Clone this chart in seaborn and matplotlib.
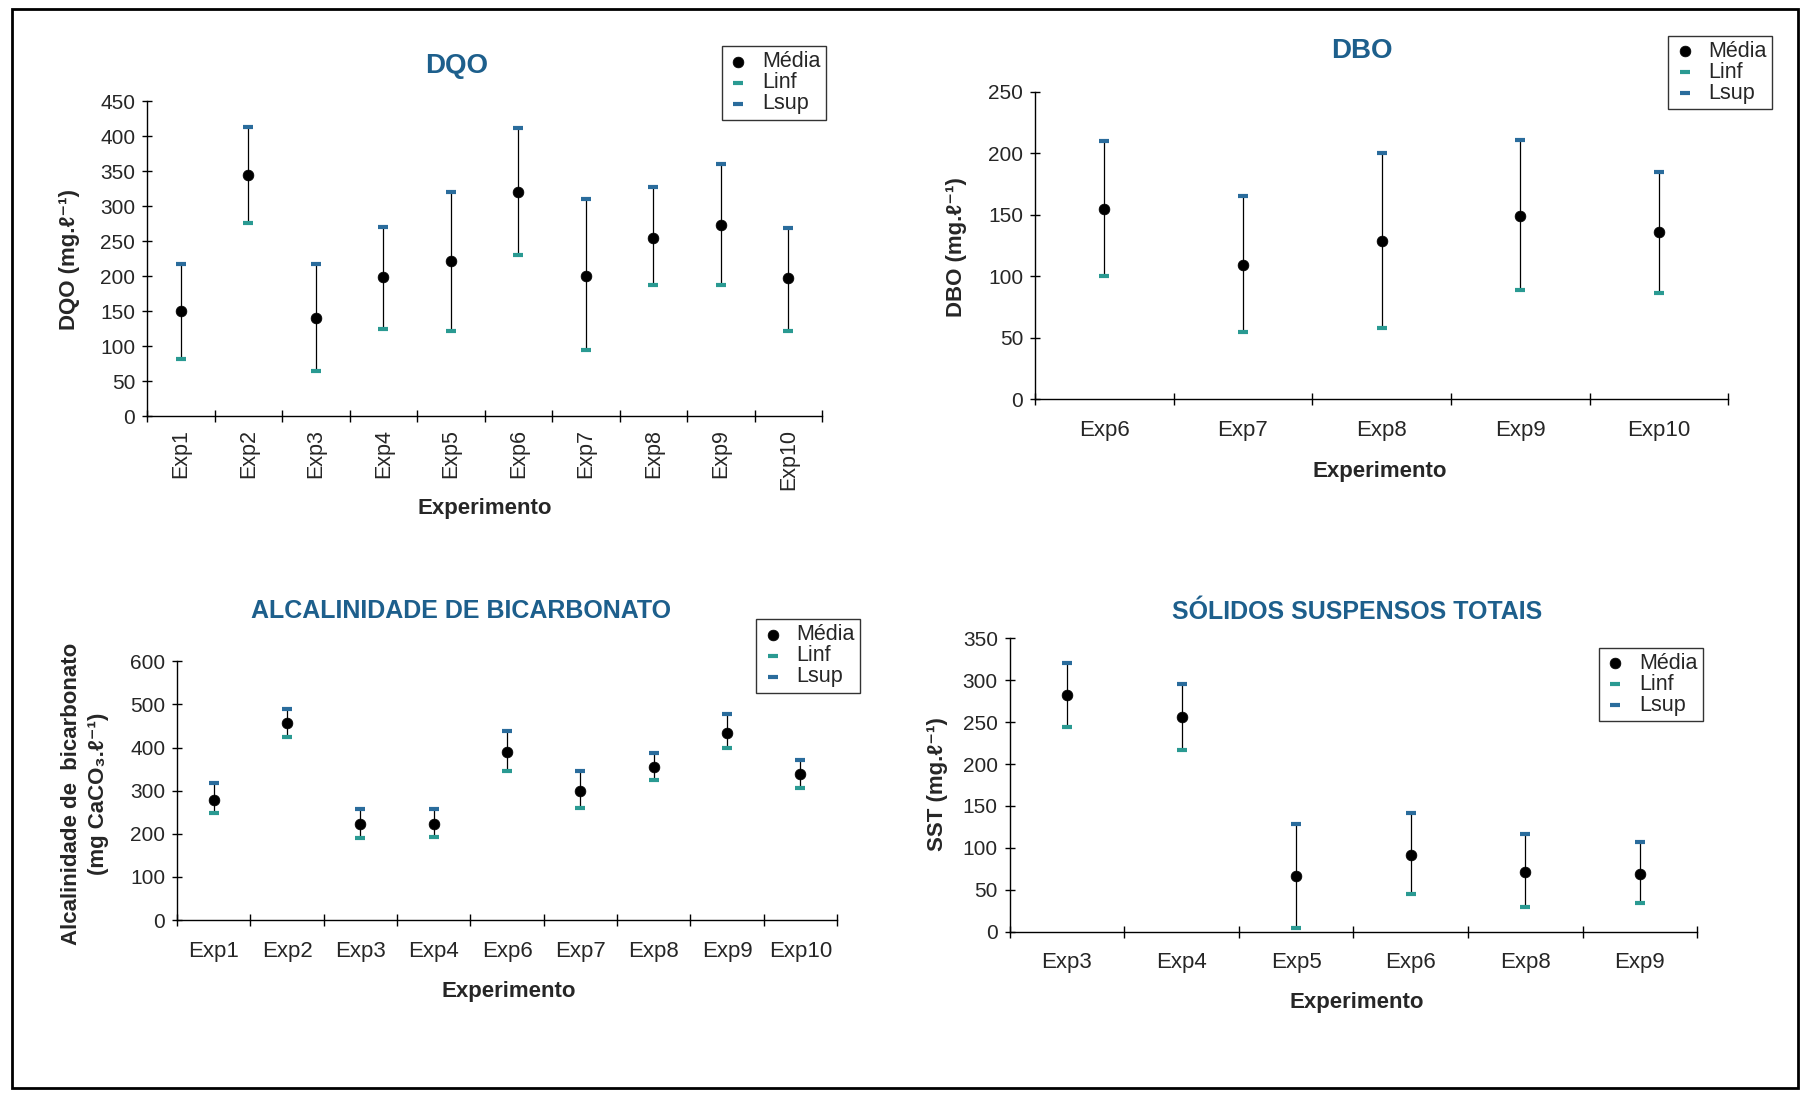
import numpy as np
import pandas as pd
import matplotlib
matplotlib.use("Agg")
import matplotlib.pyplot as plt
from matplotlib.patches import Rectangle
import seaborn as sns

# ---- data -------------------------------------------------------------
dqo_exp = ["Exp1", "Exp2", "Exp3", "Exp4", "Exp5", "Exp6", "Exp7", "Exp8", "Exp9", "Exp10"]
dqo_media = [151, 344, 141, 199, 222, 320, 201, 255, 273, 197]
dqo_linf = [82, 276, 65, 125, 122, 230, 95, 188, 188, 122]
dqo_lsup = [217, 413, 218, 271, 320, 412, 310, 327, 360, 269]

dbo_exp = ["Exp6", "Exp7", "Exp8", "Exp9", "Exp10"]
dbo_media = [155, 109, 129, 149, 136]
dbo_linf = [100, 55, 58, 89, 86]
dbo_lsup = [210, 165, 200, 211, 185]

alc_exp = ["Exp1", "Exp2", "Exp3", "Exp4", "Exp6", "Exp7", "Exp8", "Exp9", "Exp10"]
alc_media = [279, 456, 223, 223, 390, 299, 354, 435, 338]
alc_linf = [248, 425, 191, 192, 345, 260, 326, 398, 307]
alc_lsup = [318, 490, 257, 258, 438, 346, 388, 478, 372]

sst_exp = ["Exp3", "Exp4", "Exp5", "Exp6", "Exp8", "Exp9"]
sst_media = [282, 256, 66, 92, 71, 69]
sst_linf = [244, 217, 4, 45, 29, 34]
sst_lsup = [321, 296, 128, 141, 117, 107]

# ---- style ------------------------------------------------------------
sns.set_theme(style="white")
plt.rcParams["font.family"] = ["Liberation Sans", "DejaVu Sans"]
plt.rcParams["axes.linewidth"] = 1.0

TITLE_C = "#1d5f8c"
LINF_C = "#2a9a92"
LSUP_C = "#2a6c9c"

fig = plt.figure(figsize=(18.03, 11.03), dpi=100)

# outer frame
fig.patches.append(Rectangle((0.0067, 0.0136), 0.9905, 0.978, transform=fig.transFigure,
                             fill=False, edgecolor="black", linewidth=2.0))


def panel(rect, names, media, linf, lsup, yticks, title, title_xy, xlabel_xy,
          ylabel, ylabel_xy, legend_xy, rotate=False, title_size=19):
    ax = fig.add_axes(rect)
    df = pd.DataFrame({"pos": np.arange(len(names)), "exp": names,
                       "media": media, "linf": linf, "lsup": lsup})

    ax.vlines(df["pos"], df["linf"], df["lsup"], color="black", linewidth=0.9, zorder=1)
    sns.scatterplot(data=df, x="pos", y="media", ax=ax, color="black", s=60,
                    edgecolor="black", linewidth=0.5, label="Média", zorder=3, clip_on=False)
    sns.scatterplot(data=df, x="pos", y="linf", ax=ax, marker="_", color=LINF_C, s=55,
                    linewidth=3, label="Linf", zorder=2, clip_on=False)
    sns.scatterplot(data=df, x="pos", y="lsup", ax=ax, marker="_", color=LSUP_C, s=55,
                    linewidth=3, label="Lsup", zorder=2, clip_on=False)

    n = len(names)
    ax.set_xlim(-0.5, n - 0.5)
    ax.set_ylim(yticks[0], yticks[-1])
    ax.set_yticks(yticks)
    ax.set_xticks(np.arange(n + 1) - 0.5)
    ax.set_xticklabels([])
    ax.set_xticks(np.arange(n), minor=True)
    ax.set_xticklabels(names, minor=True, rotation=90 if rotate else 0,
                       fontsize=15.5 if rotate else 16)
    ax.tick_params(axis="x", which="minor", length=0, pad=9 if rotate else 15)
    ax.tick_params(axis="x", which="major", direction="inout", length=8, width=1, color="black")
    ax.tick_params(axis="y", direction="inout", length=7, width=1, color="black",
                   labelsize=15, pad=5)
    ax.tick_params(left=True, bottom=True)
    for side in ("top", "right"):
        ax.spines[side].set_visible(False)
    for side in ("left", "bottom"):
        ax.spines[side].set_color("black")
    ax.set_xlabel("")
    ax.set_ylabel("")

    fig.text(*title_xy, title, ha="center", va="center", fontsize=title_size,
             fontweight="bold", color=TITLE_C)
    fig.text(*xlabel_xy, "Experimento", ha="center", va="center", fontsize=16,
             fontweight="bold")
    fig.text(*ylabel_xy, ylabel, ha="center", va="center", rotation=90, fontsize=16,
             fontweight="bold", linespacing=1.35, multialignment="center")

    leg = ax.legend(loc="upper right", bbox_to_anchor=legend_xy, bbox_transform=fig.transFigure,
                    frameon=True, fancybox=False, fontsize=15.5, borderpad=0.25,
                    labelspacing=0.0, handletextpad=0.6, handlelength=1.0,
                    borderaxespad=0.0, markerscale=1.0)
    leg.get_frame().set_edgecolor("black")
    leg.get_frame().set_linewidth(1.0)
    return ax


panel([0.0816, 0.6225, 0.3744, 0.2857], dqo_exp, dqo_media, dqo_linf, dqo_lsup,
      np.arange(0, 451, 50), "DQO", (0.2532, 0.9406), (0.2691, 0.5391),
      "DQO (mg.ℓ⁻¹)", (0.0383, 0.765), (0.4579, 0.9583), rotate=True, title_size=20)

panel([0.5740, 0.6382, 0.3846, 0.2784], dbo_exp, dbo_media, dbo_linf, dbo_lsup,
      np.arange(0, 251, 50), "DBO", (0.7551, 0.9541), (0.7653, 0.5725),
      "DBO (mg.ℓ⁻¹)", (0.5306, 0.776), (0.9828, 0.9677), title_size=20)

panel([0.0982, 0.1658, 0.3661, 0.2346], alc_exp, alc_media, alc_linf, alc_lsup,
      np.arange(0, 601, 100), "ALCALINIDADE DE BICARBONATO", (0.2557, 0.4463),
      (0.2819, 0.1011), "Alcalinidade de  bicarbonato\n(mg CaCO₃.ℓ⁻¹)",
      (0.047, 0.28), (0.4770, 0.4390), title_size=18)

panel([0.5600, 0.1554, 0.3813, 0.2659], sst_exp, sst_media, sst_linf, sst_lsup,
      np.arange(0, 351, 50), "SÓLIDOS SUSPENSOS TOTAIS", (0.7526, 0.4453),
      (0.7526, 0.0907), "SST (mg.ℓ⁻¹)", (0.5198, 0.289), (0.9445, 0.4129), title_size=18)

fig.savefig("out.png", dpi=100, facecolor="white")
